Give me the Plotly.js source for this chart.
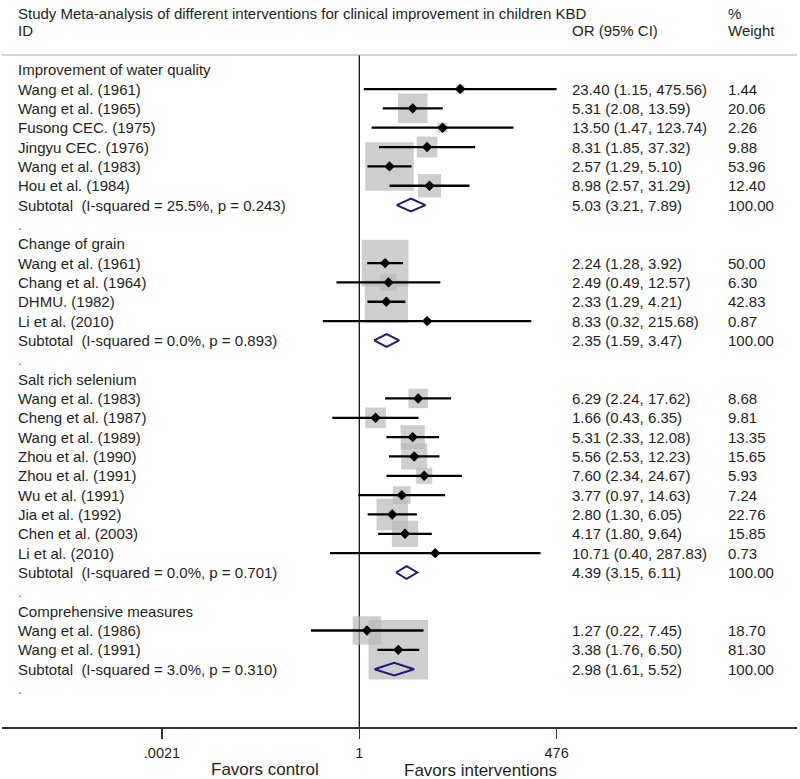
<!DOCTYPE html>
<html><head><meta charset="utf-8">
<script src="https://cdn.plot.ly/plotly-3.0.1.min.js"></script>
<style>html,body{margin:0;padding:0;background:#fff;} #chart{width:800px;height:779px;}</style>
</head><body><div id="chart"></div>
<script>
// ---------------- DATA ----------------
const groupNames = ["Improvement of water quality", "Change of grain", "Salt rich selenium", "Comprehensive measures"];

const waterStudies = ["Wang et al. (1961)", "Wang et al. (1965)", "Fusong CEC. (1975)", "Jingyu CEC. (1976)", "Wang et al. (1983)", "Hou et al. (1984)"];
const waterOR = [23.40, 5.31, 13.50, 8.31, 2.57, 8.98];
const waterLo = [1.15, 2.08, 1.47, 1.85, 1.29, 2.57];
const waterHi = [475.56, 13.59, 123.74, 37.32, 5.10, 31.29];
const waterWeight = [1.44, 20.06, 2.26, 9.88, 53.96, 12.40];
const waterSubtotal = [5.03, 3.21, 7.89];
const waterHet = "I-squared = 25.5%, p = 0.243";

const grainStudies = ["Wang et al. (1961)", "Chang et al. (1964)", "DHMU. (1982)", "Li et al. (2010)"];
const grainOR = [2.24, 2.49, 2.33, 8.33];
const grainLo = [1.28, 0.49, 1.29, 0.32];
const grainHi = [3.92, 12.57, 4.21, 215.68];
const grainWeight = [50.00, 6.30, 42.83, 0.87];
const grainSubtotal = [2.35, 1.59, 3.47];
const grainHet = "I-squared = 0.0%, p = 0.893";

const seleniumStudies = ["Wang et al. (1983)", "Cheng et al. (1987)", "Wang et al. (1989)", "Zhou et al. (1990)", "Zhou et al. (1991)", "Wu et al. (1991)", "Jia et al. (1992)", "Chen et al. (2003)", "Li et al. (2010)"];
const seleniumOR = [6.29, 1.66, 5.31, 5.56, 7.60, 3.77, 2.80, 4.17, 10.71];
const seleniumLo = [2.24, 0.43, 2.33, 2.53, 2.34, 0.97, 1.30, 1.80, 0.40];
const seleniumHi = [17.62, 6.35, 12.08, 12.23, 24.67, 14.63, 6.05, 9.64, 287.83];
const seleniumWeight = [8.68, 9.81, 13.35, 15.65, 5.93, 7.24, 22.76, 15.85, 0.73];
const seleniumSubtotal = [4.39, 3.15, 6.11];
const seleniumHet = "I-squared = 0.0%, p = 0.701";

const compStudies = ["Wang et al. (1986)", "Wang et al. (1991)"];
const compOR = [1.27, 3.38];
const compLo = [0.22, 1.76];
const compHi = [7.45, 6.50];
const compWeight = [18.70, 81.30];
const compSubtotal = [2.98, 1.61, 5.52];
const compHet = "I-squared = 3.0%, p = 0.310";

const refValue = 1;
const tickValues = [0.0021, 1, 476];
const tickLabels = [".0021", "1", "476"];

// ---------------- LAYOUT HELPERS ----------------
const W = 800, H = 779;
const M = {l: 2, r: 3, t: 55, b: 52};
const plotW = W - M.l - M.r, plotH = H - M.t - M.b;
const px = x => (x - M.l) / plotW;
const py = y => (H - M.b - y) / plotH;
const yTop = -0.76, yBottom = 33.99;

const FONT = "Liberation Sans, Arial, Helvetica, sans-serif";
const TXT = "#1e1e1e";
const colLabel = 16, colOR = 570, colW = 726;

const groupsList = [
  {name: groupNames[0], studies: waterStudies, or: waterOR, lo: waterLo, hi: waterHi, w: waterWeight, sub: waterSubtotal, het: waterHet},
  {name: groupNames[1], studies: grainStudies, or: grainOR, lo: grainLo, hi: grainHi, w: grainWeight, sub: grainSubtotal, het: grainHet},
  {name: groupNames[2], studies: seleniumStudies, or: seleniumOR, lo: seleniumLo, hi: seleniumHi, w: seleniumWeight, sub: seleniumSubtotal, het: seleniumHet},
  {name: groupNames[3], studies: compStudies, or: compOR, lo: compLo, hi: compHi, w: compWeight, sub: compSubtotal, het: compHet}
];

const f2 = v => v.toFixed(2);
const annotations = [];
function addText(x, y, text, yref, size, color) {
  annotations.push({xref: "paper", yref: yref || "y", x: x, y: y, text: text, showarrow: false,
    xanchor: "left", yanchor: "middle", font: {family: FONT, size: size || 15, color: color || TXT}});
}

const ptX = [], ptY = [], boxSize = [];
const ciX = [], ciY = [];
const diaX = [], diaY = [];
const dh = 0.33;
let row = 0;
groupsList.forEach(g => {
  addText(px(colLabel), row, g.name);
  row++;
  g.studies.forEach((s, i) => {
    addText(px(colLabel), row, s);
    addText(px(colOR), row, f2(g.or[i]) + " (" + f2(g.lo[i]) + ", " + f2(g.hi[i]) + ")");
    addText(px(colW), row, f2(g.w[i]));
    ptX.push(g.or[i]); ptY.push(row); boxSize.push(6.6 * Math.sqrt(g.w[i]));
    ciX.push(g.lo[i], g.hi[i], null); ciY.push(row, row, null);
    row++;
  });
  addText(px(colLabel), row, "Subtotal\u00a0 (" + g.het + ")");
  addText(px(colOR), row, f2(g.sub[0]) + " (" + f2(g.sub[1]) + ", " + f2(g.sub[2]) + ")");
  addText(px(colW), row, "100.00");
  diaX.push(g.sub[1], g.sub[0], g.sub[2], g.sub[0], g.sub[1], null);
  diaY.push(row, row - dh, row, row + dh, row, null);
  row++;
  addText(px(colLabel), row, ".", "y", 15, "#777");
  row++;
});

// header
addText(px(colLabel), py(13), "Study Meta-analysis of different interventions for clinical improvement in children KBD", "paper");
addText(px(colLabel), py(31), "ID", "paper");
addText(px(colOR), py(31), "OR (95% CI)", "paper");
addText(px(colW), py(13), "%", "paper");
addText(px(colW), py(31), "Weight", "paper");
// bottom labels
annotations.push({xref: "paper", yref: "paper", x: px(265), y: py(769), text: "Favors control", showarrow: false,
  xanchor: "center", yanchor: "middle", font: {family: FONT, size: 17, color: TXT}});
annotations.push({xref: "paper", yref: "paper", x: px(480), y: py(770), text: "Favors interventions", showarrow: false,
  xanchor: "center", yanchor: "middle", font: {family: FONT, size: 17, color: TXT}});

const traces = [
  {type: "scatter", mode: "lines", x: [refValue, refValue], y: [yTop, yBottom],
   line: {color: "#111", width: 1.3}, hoverinfo: "skip", cliponaxis: false},
  {type: "scatter", mode: "markers", x: ptX, y: ptY,
   marker: {symbol: "square", size: boxSize, color: "#b9b9b9", line: {width: 0}}, hoverinfo: "skip"},
  {type: "scatter", mode: "lines", x: ciX, y: ciY, line: {color: "#000", width: 2.3}, hoverinfo: "skip"},
  {type: "scatter", mode: "markers", x: ptX, y: ptY,
   marker: {symbol: "diamond", size: 8, color: "#000", line: {width: 0}}, hoverinfo: "skip"},
  {type: "scatter", mode: "lines", x: diaX, y: diaY, line: {color: "#1b1b78", width: 2}, hoverinfo: "skip"}
];

const layout = {
  width: W, height: H, margin: M, showlegend: false,
  paper_bgcolor: "#fff", plot_bgcolor: "#fff",
  xaxis: {type: "log", range: [-4.848, 5.939], showgrid: false, zeroline: false,
    showline: true, linecolor: "#333", linewidth: 1.6,
    ticks: "outside", ticklen: 10, tickwidth: 1.3, tickcolor: "#333",
    tickvals: tickValues, ticktext: tickLabels, ticklabelstandoff: 2,
    tickfont: {family: FONT, size: 14.5, color: TXT}},
  yaxis: {range: [yBottom, yTop], visible: false, showgrid: false, zeroline: false},
  shapes: [{type: "line", xref: "paper", yref: "paper", x0: 0, x1: 1, y0: 1, y1: 1,
    line: {color: "#a8a8a8", width: 1}}],
  annotations: annotations
};

Plotly.newPlot("chart", traces, layout, {staticPlot: true, displayModeBar: false});
</script>
</body></html>
